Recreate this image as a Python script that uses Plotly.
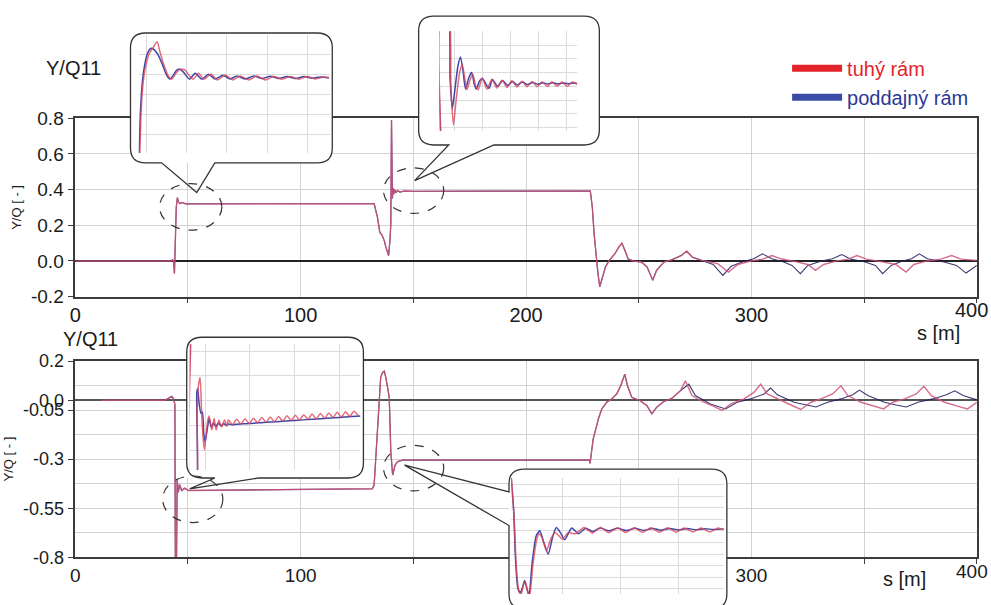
import plotly.graph_objects as go

W, H = 991, 605
# the page is photographed with a small border; positions below are given in picture pixels
# and mapped back to figure pixels with this measured transform
AX, SX = 5.0, 0.99
AY, SY = 7.8, 0.974

# ---------------- DATA ----------------
top_common_x = [0, 42.5, 43.2, 43.6, 44.0, 44.3, 44.8, 45.3, 45.8, 46.5, 47.5, 49, 52,
                132.6, 134.1, 135.1, 136.0, 137.1, 137.8, 139.0, 139.6, 140.0,
                140.3, 140.7, 141.0, 141.3, 141.7, 142.2, 143.0, 144.0, 146.0, 150.0,
                228.5, 229.4, 230.2, 231.0, 231.9, 232.7, 233.6, 235.2, 236.9, 239.4,
                241.1, 242.5, 243.6, 245.3, 247.8, 251.2, 253.7, 256.2, 257.9, 261.2,
                264.6, 268.8, 271.3, 273.8, 278.0]
top_common_y = [0.0, 0.0, 0.006, -0.004, -0.07, 0.1, 0.3, 0.355, 0.33, 0.322, 0.327, 0.32, 0.32,
                0.321, 0.243, 0.16, 0.147, 0.114, 0.077, 0.03, 0.114, 0.207,
                0.79, 0.35, 0.41, 0.375, 0.40, 0.382, 0.395, 0.386, 0.392, 0.39,
                0.392, 0.30, 0.15, 0.04, -0.07, -0.145, -0.109, -0.034, 0.003, 0.04,
                0.077, 0.099, 0.067, 0.011, -0.001, -0.006, -0.034, -0.108, -0.053, -0.006,
                0.006, 0.03, 0.054, 0.021, 0.003]
top_red_tail_x = [285, 289.8, 294, 300, 305, 309.1, 313, 320, 325, 328.4, 332, 338, 343, 346.8,
                  351, 358, 364, 368.6, 372, 378, 384, 388.8, 393, 400]
top_red_tail_y = [-0.015, -0.062, -0.02, 0.0, 0.01, 0.03, 0.012, -0.005, -0.02, -0.053, -0.02, 0.0,
                  0.01, 0.03, 0.01, -0.005, -0.02, -0.062, -0.02, 0.0, 0.01, 0.03, 0.01, 0.003]
top_blue_tail_x = [283, 287.3, 291, 296.5, 301, 304.9, 309, 314, 318, 321.7, 325, 331, 336, 340.1,
                   344, 350, 355, 358.2, 362, 367, 371, 374.5, 378, 385, 391, 395.2, 398, 400]
top_blue_tail_y = [-0.02, -0.081, -0.03, -0.003, 0.012, 0.04, 0.012, -0.005, -0.025, -0.071, -0.025,
                   0.0, 0.012, 0.036, 0.01, -0.005, -0.025, -0.071, -0.025, 0.0, 0.012, 0.04, 0.012,
                   -0.005, -0.025, -0.068, -0.04, -0.025]

bot_common_x = [11.6, 39.8, 42.8, 43.5, 44.2, 44.4, 44.9, 45.2, 45.7, 46.3,
                47.2, 48.5, 50.2, 70, 93.2, 115, 131.8, 132.6, 133.3, 134.5,
                135.5, 136.3, 137.1, 137.8, 138.5, 139.3, 140.0, 140.8, 141.9, 143.0,
                145.2, 228.1, 228.4, 229.1, 229.8, 231.0, 232.1, 233.6, 235.8, 238.0,
                240.2, 242.0, 243.8, 245.0, 246.9, 250.6, 253.6, 255.8, 258.0, 261.0,
                264.7, 268.5]
bot_common_y = [0.0, 0.0, 0.02, 0.01, -0.02, -0.85, -0.85, -0.40, -0.47, -0.43,
                -0.46, -0.448, -0.46, -0.458, -0.457, -0.454, -0.451, -0.431, -0.296, -0.094,
                0.116, 0.141, 0.149, 0.116, 0.057, 0.015, -0.263, -0.381, -0.33, -0.313,
                -0.305, -0.305, -0.322, -0.263, -0.195, -0.145, -0.094, -0.044, -0.01, 0.007,
                0.032, 0.074, 0.133, 0.074, 0.015, -0.002, -0.027, -0.069, -0.035, -0.007,
                0.01, 0.049]
bot_red_tail_x = [270.7, 273.6, 278.8, 283.3, 287.0, 290.7, 296.7, 301.1, 304.1, 307.0, 313.0,
                  317.5, 321.9, 326.4, 330.8, 336.0, 339.7, 342.7, 348.6, 354.6, 358.6, 362.7,
                  367.9, 373.1, 376.5, 379.8, 385.7, 391.7, 395.9, 400]
bot_red_tail_y = [0.099, 0.024, -0.01, -0.031, -0.052, -0.019, 0.007, 0.04, 0.082, 0.032, -0.002,
                  -0.024, -0.047, -0.01, 0.007, 0.032, 0.074, 0.024, -0.01, -0.031, -0.044, -0.01,
                  0.007, 0.032, 0.071, 0.024, -0.01, -0.031, -0.044, -0.01]
bot_blue_tail_x = [272.2, 275.1, 281.8, 288.5, 293.7, 299.6, 305.6, 308.5, 311.5, 318.9, 324.1,
                   328.6, 333.8, 339.7, 344.9, 347.9, 351.6, 359.0, 364.2, 368.7, 373.9, 380.5,
                   386.5, 390.2, 393.9, 400]
bot_blue_tail_y = [0.082, 0.024, -0.019, -0.044, -0.01, 0.007, 0.032, 0.062, 0.028, -0.01, -0.024,
                   -0.034, -0.01, 0.007, 0.028, 0.052, 0.024, -0.01, -0.024, -0.034, -0.01, 0.007,
                   0.028, 0.048, 0.024, 0.002]

t1_red_x = [44.82, 44.867, 44.917, 44.983, 45.067, 45.167, 45.233, 45.267, 45.333, 45.433, 45.542,
            45.625, 45.733, 45.833, 45.958, 46.083, 46.167, 46.292, 46.433, 46.6, 46.767, 46.958,
            47.15, 47.333, 47.542, 47.75, 47.958, 48.167, 48.375, 48.583, 48.792, 49.0, 49.208,
            49.417, 49.542]
t1_red_y = [0.27, 0.3023, 0.3165, 0.3248, 0.3307, 0.3337, 0.336, 0.3365, 0.3315, 0.3248, 0.3193,
            0.3177, 0.3207, 0.3227, 0.3223, 0.319, 0.3177, 0.3207, 0.3177, 0.3203, 0.3173, 0.3198,
            0.3173, 0.3193, 0.3173, 0.3193, 0.3173, 0.3192, 0.3177, 0.319, 0.3177, 0.319, 0.3178,
            0.3188, 0.3185]
t1_blue_x = [44.80, 44.85, 44.90, 44.96, 45.03, 45.10, 45.18, 45.29, 45.40, 45.50, 45.58, 45.67,
             45.75, 45.83, 45.93, 46.07, 46.21, 46.38, 46.54, 46.71, 46.90, 47.08, 47.25, 47.46,
             47.67, 47.88, 48.08, 48.29, 48.50, 48.71, 48.92, 49.13, 49.33, 49.54]
t1_blue_y = [0.27, 0.3023, 0.3173, 0.3257, 0.331, 0.3332, 0.3327, 0.3298, 0.3248, 0.3198, 0.3178,
             0.3198, 0.3223, 0.3227, 0.321, 0.3177, 0.3207, 0.3177, 0.3202, 0.3178, 0.3197, 0.3178,
             0.3193, 0.3178, 0.3193, 0.318, 0.3192, 0.318, 0.319, 0.318, 0.319, 0.3182, 0.3188,
             0.3183]

t2_red_x = [140.53, 140.53, 140.78, 140.87, 140.96, 141.06, 141.18, 141.27, 141.36, 141.44, 141.56,
            141.65, 141.75, 141.84, 141.99, 142.15, 142.33, 142.51, 142.69, 142.87, 143.04, 143.22,
            143.40, 143.58, 143.76, 143.94, 144.12, 144.30, 144.47, 144.65, 144.83, 145.01, 145.19,
            145.37]
t2_red_y = [0.34, 0.44, 0.44, 0.3841, 0.3579, 0.377, 0.396, 0.4019, 0.3924, 0.3836, 0.3912,
            0.3948, 0.3865, 0.3836, 0.392, 0.384, 0.3912, 0.3848, 0.3905, 0.3852, 0.39, 0.3855,
            0.3897, 0.3857, 0.3895, 0.3858, 0.3894, 0.3859, 0.3893, 0.386, 0.3892, 0.386, 0.3891,
            0.3875]
t2_blue_x = [140.52, 140.52, 140.76, 140.84, 140.92, 141.0, 141.12, 141.21, 141.30, 141.39, 141.51,
             141.61, 141.70, 141.77, 141.89, 141.99, 142.11, 142.23, 142.35, 142.53, 142.71, 142.89,
             143.06, 143.24, 143.42, 143.60, 143.78, 143.96, 144.14, 144.31, 144.49, 144.67, 144.85,
             145.03, 145.2, 145.37]
t2_blue_y = [0.34, 0.44, 0.44, 0.3912, 0.3698, 0.3817, 0.4008, 0.4074, 0.3972, 0.3841, 0.3924,
             0.396, 0.3877, 0.384, 0.39, 0.3917, 0.388, 0.3846, 0.391, 0.386, 0.3902, 0.3866,
             0.3896, 0.387, 0.3892, 0.3873, 0.3889, 0.3875, 0.3887, 0.3877, 0.3886, 0.3878, 0.3885,
             0.3879, 0.3884, 0.3881]

b1_red_x = [43.45, 43.45, 43.99, 44.1, 44.25, 44.44, 44.6, 44.75, 44.93, 45.1, 45.3, 45.45, 45.75,
            46.01, 46.24, 46.54, 46.85, 47.17, 47.45, 47.6, 48.07, 48.54, 49.0, 49.47, 49.94, 50.41,
            50.88, 51.35, 51.82, 52.29, 52.76, 53.22, 53.69, 54.16, 54.63, 55.1, 55.57, 56.04, 56.5,
            56.97, 57.44, 57.91, 58.38, 58.85, 59.32, 59.78, 60.25, 60.72, 61.19, 61.66, 62.13]
b1_red_y = [-0.25, -0.60, -0.60, -0.42, -0.37, -0.353, -0.42, -0.47, -0.499, -0.47, -0.44, -0.431,
            -0.459, -0.436, -0.459, -0.439, -0.453, -0.439, -0.452, -0.4389, -0.4483, -0.4377,
            -0.4471, -0.4365, -0.4459, -0.4353, -0.4447, -0.4341, -0.4436, -0.433, -0.4424, -0.4318,
            -0.4412, -0.4306, -0.44, -0.4294, -0.4388, -0.4282, -0.4377, -0.4271, -0.4365, -0.4259,
            -0.4353, -0.4247, -0.4341, -0.4235, -0.4329, -0.4223, -0.4317, -0.4211, -0.4305]
b1_blue_x = [43.39, 43.39, 43.96, 44.07, 44.18, 44.33, 44.55, 44.70, 44.85, 45.0, 45.23, 45.45,
             45.68, 45.94, 46.2, 46.5, 46.8, 47.06, 47.3, 47.6, 48.0, 48.5, 49.5, 50.5, 51.5, 53.0,
             55.0, 57.0, 59.0, 61.0, 62.4]
b1_blue_y = [-0.25, -0.60, -0.60, -0.383, -0.376, -0.406, -0.426, -0.423, -0.466, -0.483, -0.459,
             -0.436, -0.453, -0.445, -0.452, -0.445, -0.451, -0.446, -0.4495, -0.447, -0.4485,
             -0.4475, -0.4465, -0.4455, -0.444, -0.4425, -0.44, -0.4375, -0.435, -0.4325, -0.431]

b2_red_x = [140.22, 140.26, 140.34, 140.41, 140.5, 140.58, 140.66, 140.72, 140.8, 140.87, 140.98,
            141.12, 141.2, 141.3, 141.45, 141.6, 141.75, 141.88, 142.0, 142.2, 142.45, 142.74,
            143.03, 143.32, 143.6, 143.9, 144.18, 144.47, 144.76, 145.05, 145.34, 145.63, 145.91,
            146.2, 146.49, 146.78, 147.07, 147.36, 147.56]
b2_red_y = [-0.255, -0.27, -0.30, -0.34, -0.362, -0.365, -0.3565, -0.354, -0.362, -0.367, -0.34,
            -0.317, -0.3125, -0.316, -0.3271, -0.317, -0.3115, -0.3143, -0.3172, -0.3115, -0.3125,
            -0.3072, -0.3118, -0.3072, -0.3115, -0.3073, -0.3114, -0.3073, -0.3113, -0.3074,
            -0.3112, -0.3074, -0.3111, -0.3075, -0.311, -0.3075, -0.311, -0.3076, -0.309]
b2_blue_x = [140.20, 140.24, 140.32, 140.39, 140.47, 140.55, 140.64, 140.70, 140.78, 140.85, 140.96,
             141.10, 141.22, 141.36, 141.51, 141.66, 141.79, 141.93, 142.08, 142.32, 142.55, 142.8,
             143.05, 143.3, 143.6, 143.9, 144.2, 144.5, 144.8, 145.1, 145.4, 145.7, 146.0, 146.3,
             146.6, 146.9, 147.2, 147.56]
b2_blue_y = [-0.25, -0.266, -0.2915, -0.337, -0.36, -0.3633, -0.3576, -0.3528, -0.36, -0.3656,
             -0.337, -0.3143, -0.31, -0.32, -0.33, -0.3157, -0.3072, -0.3115, -0.3177, -0.3075,
             -0.3125, -0.3078, -0.3105, -0.3075, -0.31, -0.3078, -0.3098, -0.3078, -0.3096,
             -0.3079, -0.3094, -0.308, -0.3092, -0.308, -0.309, -0.3081, -0.3089, -0.3083]

series_names = ["tuhý rám", "poddajný rám"]
top_ticks = [-0.2, 0.0, 0.2, 0.4, 0.6, 0.8]
top_ticktext = ["-0.2", "0.0", "0.2", "0.4", "0.6", "0.8"]
bot_ticks = [-0.8, -0.55, -0.3, -0.05, 0.0, 0.2]
bot_ticktext = ["-0.8", "-0.55", "-0.3", "-0.05", "0.0", "0.2"]
bot_minor = [-0.675, -0.425, -0.175, 0.075]
x_ticks = [0, 100, 200, 300]
x_end_tick = 400          # last x tick; its label is placed so it stays inside the page
x_minor = [50, 150, 250, 350]

# ---------------- STYLE / LAYOUT HELPERS ----------------
RED = "rgba(205,85,125,0.85)"
BLUE = "rgba(35,30,95,0.88)"
FONT = "Liberation Sans, Arial, sans-serif"


def fx(X):
    return ((X - AX) / SX) / W


def fy(Y):
    return 1 - ((Y - AY) / SY) / H


def clip(v):
    return min(1.0, max(0.0, v))


def dx(a, b):
    return [clip(fx(a)), clip(fx(b))]


def dy(top, bottom):
    return [clip(fy(bottom)), clip(fy(top))]


def P(x, y):
    return f"{fx(x):.5f},{fy(y):.5f}"


def callout_bottom(x0, y0, x1, y1, r, a, b, tip):
    return (f"M{P(b, y1)} L{P(x1 - r, y1)} Q{P(x1, y1)} {P(x1, y1 - r)} L{P(x1, y0 + r)} "
            f"Q{P(x1, y0)} {P(x1 - r, y0)} L{P(x0 + r, y0)} Q{P(x0, y0)} {P(x0, y0 + r)} "
            f"L{P(x0, y1 - r)} Q{P(x0, y1)} {P(x0 + r, y1)} L{P(a, y1)} L{P(*tip)} Z")


def callout_left(x0, y0, x1, y1, r, a, b, tip):
    return (f"M{P(x0, b)} L{P(x0, y1 - r)} Q{P(x0, y1)} {P(x0 + r, y1)} L{P(x1 - r, y1)} "
            f"Q{P(x1, y1)} {P(x1, y1 - r)} L{P(x1, y0 + r)} Q{P(x1, y0)} {P(x1 - r, y0)} "
            f"L{P(x0 + r, y0)} Q{P(x0, y0)} {P(x0, y0 + r)} L{P(x0, a)} L{P(*tip)} Z")


fig = go.Figure()

fig.add_trace(go.Scatter(x=top_common_x + top_blue_tail_x, y=top_common_y + top_blue_tail_y,
                         mode="lines", line=dict(color=BLUE, width=1.1), xaxis="x", yaxis="y",
                         showlegend=False, hoverinfo="skip"))
fig.add_trace(go.Scatter(x=top_common_x + top_red_tail_x, y=top_common_y + top_red_tail_y,
                         mode="lines", line=dict(color=RED, width=1.4), xaxis="x", yaxis="y",
                         showlegend=False, hoverinfo="skip"))
fig.add_trace(go.Scatter(x=bot_common_x + bot_blue_tail_x, y=bot_common_y + bot_blue_tail_y,
                         mode="lines", line=dict(color=BLUE, width=1.1), xaxis="x2", yaxis="y2",
                         showlegend=False, hoverinfo="skip"))
fig.add_trace(go.Scatter(x=bot_common_x + bot_red_tail_x, y=bot_common_y + bot_red_tail_y,
                         mode="lines", line=dict(color=RED, width=1.4), xaxis="x2", yaxis="y2",
                         showlegend=False, hoverinfo="skip"))

fig.add_trace(go.Scatter(x=[None], y=[None], mode="lines", line=dict(color="#e3232a", width=7),
                         name=f'<span style="color:#e3232a">{series_names[0]}</span>',
                         xaxis="x", yaxis="y"))
fig.add_trace(go.Scatter(x=[None], y=[None], mode="lines", line=dict(color="#3a4ca8", width=7),
                         name=f'<span style="color:#2b3894">{series_names[1]}</span>',
                         xaxis="x", yaxis="y"))

insets = [
    dict(cover=(129, 31, 330, 162), inner=(137, 33, 328, 152), xr=[44.8, 49.575], yr=[0.2805, 0.34],
         xd=(1, 0), yd=(0.01, 0), red=(t1_red_x, t1_red_y), blue=(t1_blue_x, t1_blue_y)),
    dict(cover=(416, 14, 596, 144), inner=(436.7, 29.3, 574, 130), xr=[140.46, 145.37],
         yr=[0.3535, 0.426], xd=(1, 0), yd=(0.01, 0.006), red=(t2_red_x, t2_red_y),
         blue=(t2_blue_x, t2_blue_y)),
    dict(cover=(185, 338, 361, 480), inner=(188, 345, 358, 472), xr=[43.28, 62.38], yr=[-0.54, -0.286],
         xd=(5, 0), yd=(0.05, 0), red=(b1_red_x, b1_red_y), blue=(b1_blue_x, b1_blue_y)),
    dict(cover=(506, 471, 723, 597), inner=(508.3, 480, 720, 597), xr=[140.24, 147.56],
         yr=[-0.3644, -0.2644], xd=(2, 0), yd=(0.01, 0), red=(b2_red_x, b2_red_y),
         blue=(b2_blue_x, b2_blue_y)),
]

layout_axes = {}
n = 3
for ins in insets:
    cx0, cy0, cx1, cy1 = ins["cover"]
    fig.add_trace(go.Scatter(x=[None], y=[None], mode="lines", xaxis=f"x{n}", yaxis=f"y{n}",
                             showlegend=False, hoverinfo="skip"))
    layout_axes[f"xaxis{n}"] = dict(domain=dx(cx0, cx1), anchor=f"y{n}", range=[0, 1], showgrid=False,
                                    zeroline=False, showticklabels=False, ticks="", showline=False,
                                    fixedrange=True)
    layout_axes[f"yaxis{n}"] = dict(domain=dy(cy0, cy1), anchor=f"x{n}", range=[0, 1],
                                    showgrid=False, zeroline=False, showticklabels=False, ticks="",
                                    showline=False, fixedrange=True)
    n += 1
    ix0, iy0, ix1, iy1 = ins["inner"]
    fig.add_trace(go.Scatter(x=ins["blue"][0], y=ins["blue"][1], mode="lines",
                             line=dict(color="rgba(40,50,160,0.9)", width=1.5, shape="spline",
                                       smoothing=0.6),
                             xaxis=f"x{n}", yaxis=f"y{n}", showlegend=False, hoverinfo="skip"))
    fig.add_trace(go.Scatter(x=ins["red"][0], y=ins["red"][1], mode="lines",
                             line=dict(color="rgba(220,70,90,0.8)", width=1.5, shape="spline",
                                       smoothing=0.6),
                             xaxis=f"x{n}", yaxis=f"y{n}", showlegend=False, hoverinfo="skip"))
    layout_axes[f"xaxis{n}"] = dict(domain=dx(ix0, ix1), anchor=f"y{n}", range=ins["xr"],
                                    dtick=ins["xd"][0], tick0=ins["xd"][1], showgrid=True,
                                    gridcolor="#dcdcdc", gridwidth=1, zeroline=False,
                                    showticklabels=False, ticks="", showline=False, fixedrange=True)
    layout_axes[f"yaxis{n}"] = dict(domain=dy(iy0, iy1), anchor=f"x{n}", range=ins["yr"],
                                    dtick=ins["yd"][0], tick0=ins["yd"][1], showgrid=True,
                                    gridcolor="#dcdcdc", gridwidth=1, zeroline=False,
                                    showticklabels=False, ticks="", showline=False, fixedrange=True)
    n += 1

frame = dict(showline=True, mirror=True, linecolor="#3c3c3c", linewidth=1.5,
             showgrid=True, gridcolor="#d2d2d2", gridwidth=1, fixedrange=True)
y_common = dict(ticks="outside", ticklen=6, tickcolor="#3c3c3c", **frame)
x_common = dict(ticks="", range=[0, 400], tickvals=x_ticks, zeroline=False,
                minor=dict(tickvals=x_minor + [x_end_tick], showgrid=True, gridcolor="#d2d2d2",
                           ticks="outside", ticklen=5, tickcolor="#3c3c3c"), **frame)

fig.update_layout(
    width=W, height=H, margin=dict(l=0, r=0, t=0, b=0),
    paper_bgcolor="white", plot_bgcolor="white",
    font=dict(family=FONT, color="#1a1a1a"),
    xaxis=dict(domain=dx(74, 972), anchor="y", tickfont=dict(size=20), **x_common),
    yaxis=dict(domain=dy(117, 297), range=[-0.2, 0.8], anchor="x", tickvals=top_ticks,
               ticktext=top_ticktext, tickfont=dict(size=19), zeroline=True, zerolinecolor="#222",
               zerolinewidth=1.5,
               title=dict(text="Y/Q [ - ]", font=dict(size=13), standoff=6), **y_common),
    xaxis2=dict(domain=dx(74, 972), anchor="y2", tickfont=dict(size=19), **x_common),
    yaxis2=dict(domain=dy(362, 560), range=[-0.8, 0.2], anchor="x2", tickvals=bot_ticks,
                ticktext=bot_ticktext, tickfont=dict(size=18), zeroline=True, zerolinecolor="#555",
                zerolinewidth=2, minor=dict(tickvals=bot_minor, showgrid=True, gridcolor="#d2d2d2"),
                title=dict(text="Y/Q [ - ]", font=dict(size=13), standoff=6), **y_common),
    legend=dict(x=fx(783), y=fy(47), xanchor="left", yanchor="top", bgcolor="rgba(0,0,0,0)",
                font=dict(size=20), itemwidth=50, tracegroupgap=0),
    showlegend=True,
    **layout_axes,
)

line_style = dict(color="#333333", width=1.3)
shapes = [
    dict(type="path", path=callout_bottom(129, 31, 330, 162, 15, 160, 213, (195, 192))),
    dict(type="path", path=callout_bottom(416, 14, 596, 144, 15, 446, 491, (412, 180))),
    dict(type="path", path=callout_bottom(185, 338, 361, 480, 15, 213, 257, (188, 491))),
    dict(type="path", path=callout_left(506, 471, 723, 612, 15, 494, 528, (402, 467))),
]
for s in shapes:
    fig.add_shape(**s, xref="paper", yref="paper", line=line_style, fillcolor="rgba(0,0,0,0)",
                  layer="above")
for (x0, y0, x1, y1) in [(158, 183, 220, 230), (381, 167, 441, 213), (161, 478, 221, 525),
                         (381, 447, 441, 493)]:
    fig.add_shape(type="circle", xref="paper", yref="paper", x0=fx(x0), x1=fx(x1), y0=fy(y1),
                  y1=fy(y0), line=dict(color="#333333", width=1.2, dash="dash"), layer="above")

for txt, x, y, anchor in [("Y/Q11", 43, 66, "left"), ("Y/Q11", 60, 340, "left"),
                          ("s [m]", 934, 334, "center"), ("s [m]", 900, 582, "center")]:
    fig.add_annotation(text=txt, xref="paper", yref="paper", x=fx(x), y=fy(y), xanchor=anchor,
                       yanchor="middle", showarrow=False, font=dict(size=20, color="#1a1a1a"))

# last x tick label of each panel, right-aligned so it does not run past the page edge
for xref, ypix, size in [("x", 311, 20), ("x2", 574, 19)]:
    fig.add_annotation(text=str(x_end_tick), xref=xref, yref="paper", x=x_end_tick, y=fy(ypix),
                       xanchor="right", yanchor="middle", xshift=13, showarrow=False,
                       font=dict(size=size, color="#1a1a1a"))

fig.write_html("out.html")
